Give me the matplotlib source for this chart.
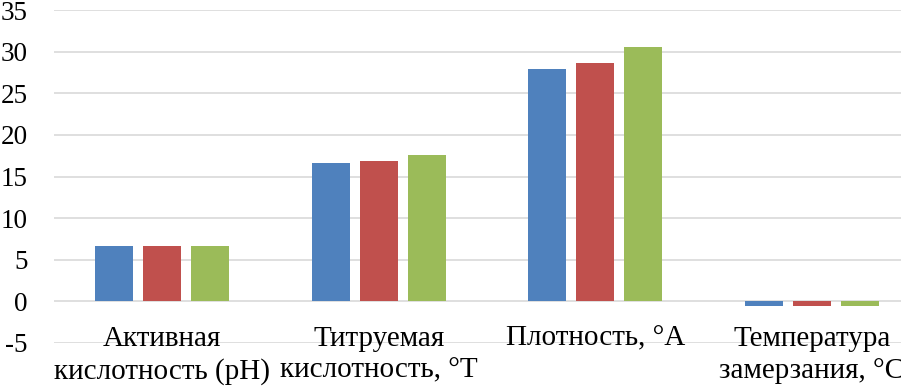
import matplotlib.pyplot as plt
import numpy as np

plt.rcParams['font.family'] = ['Liberation Serif', 'DejaVu Serif']

# Data
categories = ['Активная\nкислотность (pH)', 'Титруемая\nкислотность, °T',
              'Плотность, °A', 'Температура\nзамерзания, °C']
series_blue = [6.65, 16.65, 27.95, -0.5]
series_red = [6.65, 16.9, 28.6, -0.5]
series_green = [6.6, 17.55, 30.5, -0.5]
yticks = [-5, 0, 5, 10, 15, 20, 25, 30, 35]

colors = ['#4F81BD', '#C0504D', '#9BBB59']

fig = plt.figure(figsize=(9.01, 3.86), dpi=100)
# plot area runs slightly past the right edge, as in the reference crop
ax = fig.add_axes([54 / 901, 43 / 386, 866 / 901, 333 / 386])

x = np.arange(len(categories))
step = 0.2217
width = 0.1755
for k, (vals, c) in enumerate(zip([series_blue, series_red, series_green], colors)):
    ax.bar(x + (k - 1) * step, vals, width=width, color=c, zorder=3)

ax.set_xlim(-0.5, 3.5)
ax.set_ylim(-5, 35)
ax.set_yticks(yticks)
ax.set_yticklabels([str(v) for v in yticks], fontsize=19.5)
ax.grid(axis='y', color='#d9d9d9', linewidth=1.2, zorder=0)
ax.tick_params(axis='y', length=0, pad=19)
ax.tick_params(axis='x', length=0, labelbottom=False)
for s in ax.spines.values():
    s.set_visible(False)

for i, lab in enumerate(categories):
    ax.annotate(lab, xy=(i, 0), xytext=(0, -17.5), textcoords='offset points',
                ha='center', va='top', multialignment='center',
                fontsize=21, linespacing=1.3, annotation_clip=False)

fig.savefig('out.png', dpi=100)
